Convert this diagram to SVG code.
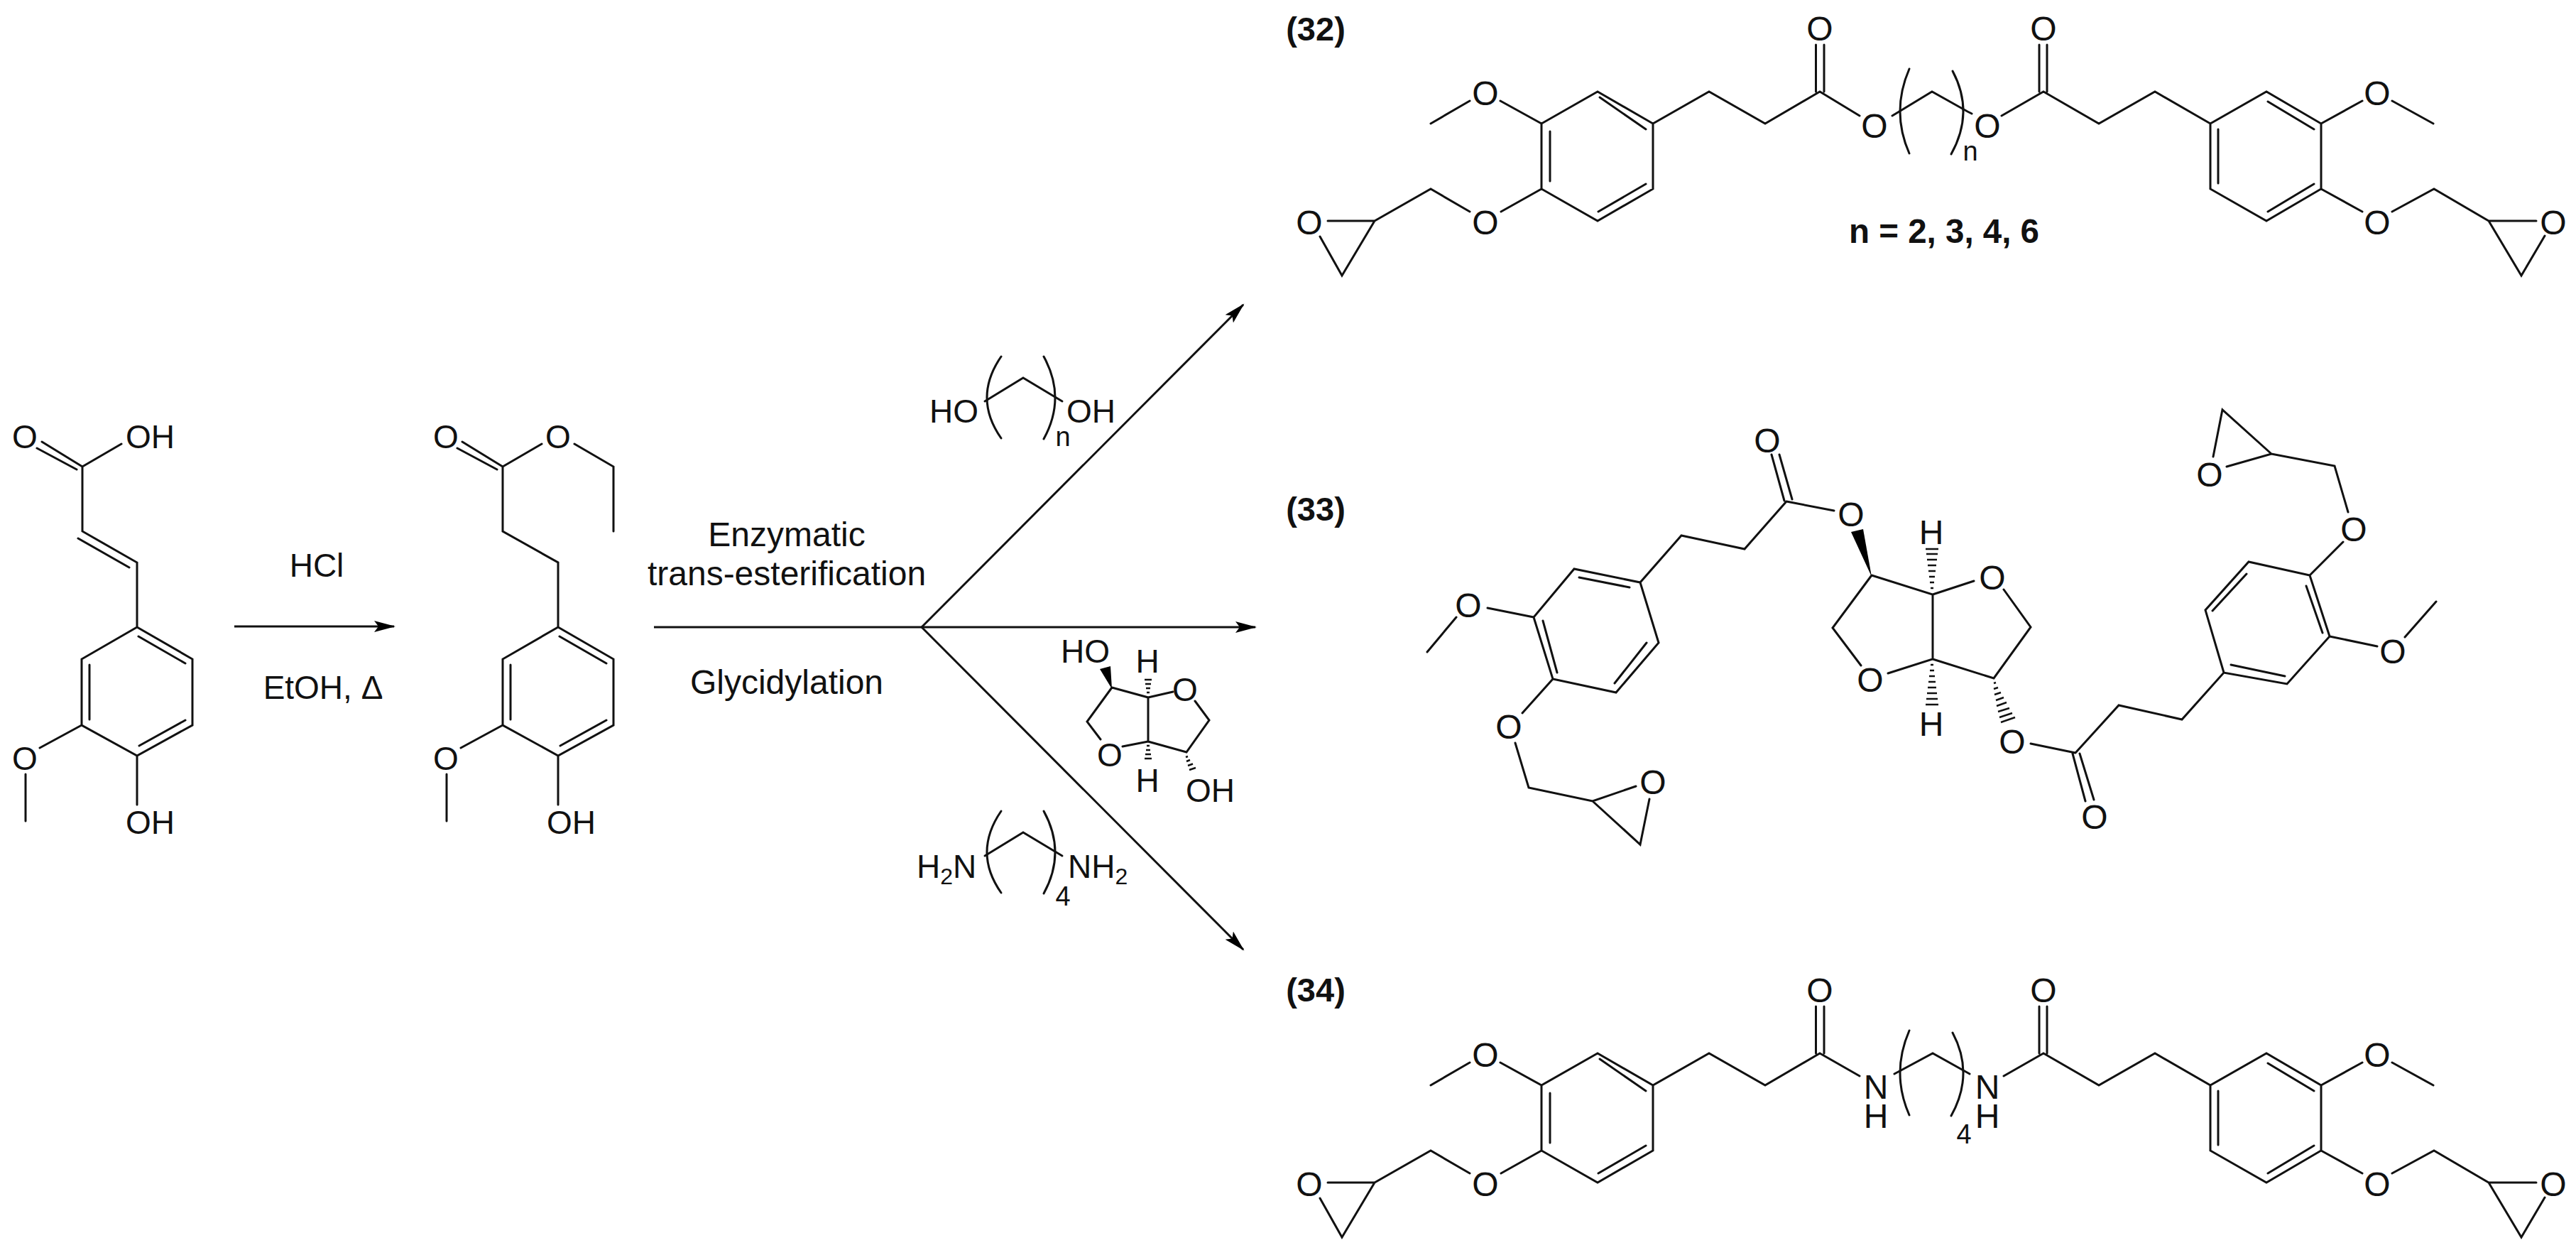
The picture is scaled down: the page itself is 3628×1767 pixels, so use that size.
<svg xmlns="http://www.w3.org/2000/svg" width="3628" height="1767" viewBox="0 0 3628 1767">
<style>
.b{fill:none;stroke:#111;stroke-width:3;stroke-linecap:round;stroke-linejoin:miter}
.h{fill:none;stroke:#111;stroke-width:2.5}
.w{fill:#000;stroke:none}
.c{fill:none;stroke:#111;stroke-width:3}
text{font-family:"Liberation Sans",Arial,sans-serif;fill:#111}
.r{font-size:46px}
.t{font-size:48px}
.p{font-size:48px;text-anchor:middle}
.m{text-anchor:middle}
.s{font-size:38px;text-anchor:middle}
.l{font-size:47px;font-weight:bold;text-anchor:middle}
</style>
<defs>
<marker id="arrow" markerUnits="userSpaceOnUse" markerWidth="32" markerHeight="20" refX="28" refY="10" orient="auto">
<path d="M0,2 L30,10 L0,18 L6,10 Z" fill="#000"/>
</marker>
</defs>
<rect width="3628" height="1767" fill="#fff"/>

<g id="connectors">
<path class="c" d="M330,882H555" marker-end="url(#arrow)"/>
<path class="c" d="M921,883H1298"/>
<path class="c" d="M1298,883H1768" marker-end="url(#arrow)"/>
<path class="c" d="M1298,883L1751,429" marker-end="url(#arrow)"/>
<path class="c" d="M1298,883L1751,1337" marker-end="url(#arrow)"/>
</g>

<g id="ferulic-acid">
<path class="b" d="M59,622L116,657M52,631L108,661M116,657L171,625M116,657V748L193,792V883M110,758L182,799M193,883L271,928V1021L193,1064L115,1021V928L193,883M195,896L261,934M126,936V1013M196,1050L261,1014M115,1021L56,1053M36,1090V1156M193,1064V1133"/>
<text class="r m" x="35" y="631">O</text>
<text class="r" x="177" y="631">OH</text>
<text class="r m" x="35" y="1084">O</text>
<text class="r" x="177" y="1174">OH</text>
</g>

<g id="ethyl-ester">
<path class="b" d="M651,622L708,657M644,631L700,661M708,657L763,625M809,625L864,657V748M708,657V748L786,792V883M786,883L864,928V1021L786,1064L708,1021V928L786,883M788,896L854,934M719,936V1013M789,1050L854,1014M708,1021L649,1053M629,1090V1156M786,1064V1133"/>
<text class="r m" x="628" y="631">O</text>
<text class="r m" x="786" y="631">O</text>
<text class="r m" x="628" y="1084">O</text>
<text class="r" x="770" y="1174">OH</text>
</g>

<g id="step-1-conditions">
<text class="r m" x="446" y="812">HCl</text>
<text class="r m" x="455" y="984">EtOH, Δ</text>
</g>

<g id="step-2-conditions">
<text class="t m" x="1108" y="769">Enzymatic</text>
<text class="t m" x="1108" y="824">trans-esterification</text>
<text class="t m" x="1108" y="977">Glycidylation</text>
</g>

<g id="reagent-diol">
<path class="b" d="M1387,565L1441,532L1496,565"/>
<path class="b" d="M1410,502Q1370,560 1410,617M1470,502Q1502,560 1470,618"/>
<text class="r" x="1309" y="595">HO</text>
<text class="r" x="1502" y="595">OH</text>
<text class="s" x="1497" y="628">n</text>
</g>

<g id="reagent-isosorbide">
<path class="b" d="M1566,968L1617,982V1044L1671,1059L1703,1014L1683,987M1652,974L1617,982M1566,968L1531,1016L1550,1041M1581,1051L1617,1044"/>
<path class="w" d="M1566,970L1549,942L1564,938Z"/>
<path class="h" d="M1615,975h4M1614,969h6M1613,963h8M1612,957h10M1615,1050h4M1614,1056h6M1613,1062h8M1612,1068h10M1670,1066l3,-1M1671,1072l5,-2M1673,1078l7,-2.500M1675,1084l9,-3"/>
<text class="r" x="1494" y="933">HO</text>
<text class="r m" x="1616" y="947">H</text>
<text class="r m" x="1669" y="987">O</text>
<text class="r m" x="1563" y="1079">O</text>
<text class="r m" x="1616" y="1115">H</text>
<text class="r" x="1670" y="1129">OH</text>
</g>

<g id="reagent-diamine">
<path class="b" d="M1387,1205L1441,1172L1496,1205"/>
<path class="b" d="M1410,1142Q1370,1200 1410,1257M1470,1142Q1502,1200 1470,1258"/>
<text class="r" x="1291" y="1236">H<tspan font-size="32" dy="9">2</tspan><tspan dy="-9">N</tspan></text>
<text class="r" x="1504" y="1236">NH<tspan font-size="32" dy="9">2</tspan></text>
<text class="s" x="1497" y="1275">4</text>
</g>

<g id="compound-32">
<path class="b" d="M2250,129L2328,174V266L2250,311L2171,266V174L2250,129M2253,137L2318,182M2183,185V255M2318,259L2251,298M2328,174L2407,129L2486,174L2563,129M2557.500,63V129M2569,63V129M2563,129L2619,163M2171,174L2113,142M2070,142L2015,174M2171,266L2114,298M2070,298L2015,266L1936,311M1936,311H1870M1859,333L1890,388L1936,311M2665,163L2721,129L2771,157L2777,160M2819,163L2878,129M2872,63V129M2883,63V129M2878,129L2956,174L3035,129L3113,174M3113,174L3192,129L3269,174V266L3192,311L3113,266V174M3194,143L3259,182M3124,182V258M3259,259L3194,298M3269,174L3327,142M3369,142L3427,174M3269,266L3327,298M3369,298L3428,266L3505,311H3572M3584,332L3551,388L3505,311"/>
<path class="b" d="M2689,97Q2663,157 2689,216M2750,100Q2781,158 2748,217"/>
<text class="l" x="1853" y="57">(32)</text>
<text class="p" x="2563" y="57">O</text><text class="p" x="2878" y="57">O</text>
<text class="p" x="2092" y="148">O</text><text class="p" x="3348" y="148">O</text>
<text class="p" x="2640" y="194">O</text><text class="p" x="2799" y="194">O</text>
<text class="p" x="2092" y="330">O</text><text class="p" x="3348" y="330">O</text>
<text class="p" x="1844" y="330">O</text><text class="p" x="3596" y="330">O</text>
<text class="s" x="2775" y="226">n</text>
<text x="2738" y="342" font-size="47.500" font-weight="bold" text-anchor="middle">n = 2, 3, 4, 6</text>
</g>

<g id="compound-33">
<path class="b" d="M2495,640L2513,705M2506,640L2524,703M2516,706L2583,719M2516,706L2457,773L2368,754L2310,820L2217,801L2160,869L2187,956L2276,975L2336,905L2310,820M2224,813L2295,827M2173,874L2193,947M2274,962L2319,905M2160,869L2095,856M2051,869L2010,918M2187,956L2144,1004M2134,1046L2153,1109L2243,1128L2304,1107M2323,1125L2310,1189L2243,1128M2636,810L2722,837V928L2659,948M2636,810L2581,884L2621,937M2722,837L2780,818M2822,830L2860,883L2808,955L2722,928M2860,1047L2923,1060M2919,1061L2937,1128M2929,1061L2949,1126M2923,1060L2984,993L3073,1013L3132,947L3221,963L3281,896L3253,810L3167,791L3106,859L3132,947M3142,936L3218,952M3248,825L3271,891M3116,860L3164,808M3281,896L3348,910M3387,897L3431,847M3253,810L3300,763M3307,721L3288,656L3199,639L3136,657M3117,643L3130,577L3199,639"/>
<path class="w" d="M2636,812L2607,749L2624,745Z"/>
<path class="h" d="M2719,828h4M2718,820h6M2717,812h8M2716,804h10M2715,796h12M2714,788h14M2713,780h16M2712,773h18M2719,936h4M2718,944h6M2717,952h8M2716,960h10M2715,968h12M2714,976h14M2713,984h16M2712,992h18M2808,962l3,-1M2808,970l6,-2M2809,978l9,-3M2811,986l11,-4M2812,994l14,-5M2814,1002l16,-5M2816,1010l18,-6M2818,1017l20,-7"/>
<text class="l" x="1853" y="733">(33)</text>
<text class="p" x="2489" y="637">O</text><text class="p" x="2607" y="741">O</text>
<text class="p" x="2068" y="869">O</text><text class="p" x="2125" y="1040">O</text>
<text class="p" x="2328" y="1118">O</text><text class="p" x="2634" y="974">O</text>
<text class="p" x="2720" y="766">H</text><text class="p" x="2720" y="1036">H</text>
<text class="p" x="2806" y="830">O</text><text class="p" x="2834" y="1061">O</text>
<text class="p" x="2950" y="1167">O</text><text class="p" x="3370" y="934">O</text>
<text class="p" x="3315" y="762">O</text><text class="p" x="3112" y="685">O</text>
</g>

<g id="compound-34">
<path class="b" d="M2250,1483L2328,1528V1620L2250,1665L2171,1620V1528L2250,1483M2253,1491L2318,1536M2183,1539V1609M2318,1613L2251,1652M2328,1528L2407,1483L2486,1528L2563,1483M2557.500,1417V1483M2569,1417V1483M2563,1483L2619,1515M2171,1528L2113,1496M2070,1496L2015,1528M2171,1620L2114,1652M2070,1652L2015,1620L1936,1665M1936,1665H1870M1859,1687L1890,1742L1936,1665M2668,1512L2722,1483L2774,1512M2822,1515L2878,1483M2872,1417V1483M2883,1417V1483M2878,1483L2956,1528L3035,1483L3113,1528M3113,1528L3192,1483L3269,1528V1620L3192,1665L3113,1620V1528M3194,1497L3259,1536M3124,1536V1612M3259,1613L3194,1652M3269,1528L3327,1496M3369,1496L3427,1528M3269,1620L3327,1652M3369,1652L3428,1620L3505,1665H3572M3584,1686L3551,1742L3505,1665"/>
<path class="b" d="M2689,1451Q2663,1511 2689,1570M2750,1454Q2781,1512 2748,1571"/>
<text class="l" x="1853" y="1410">(34)</text>
<text class="p" x="2563" y="1411">O</text><text class="p" x="2878" y="1411">O</text>
<text class="p" x="2092" y="1502">O</text><text class="p" x="3348" y="1502">O</text>
<text class="p" y="1547"><tspan x="2642">N</tspan><tspan x="2642" dy="41">H</tspan></text>
<text class="p" y="1547"><tspan x="2799">N</tspan><tspan x="2799" dy="41">H</tspan></text>
<text class="p" x="2092" y="1684">O</text><text class="p" x="3348" y="1684">O</text>
<text class="p" x="1844" y="1684">O</text><text class="p" x="3596" y="1684">O</text>
<text class="s" x="2766" y="1610">4</text>
</g>
</svg>
